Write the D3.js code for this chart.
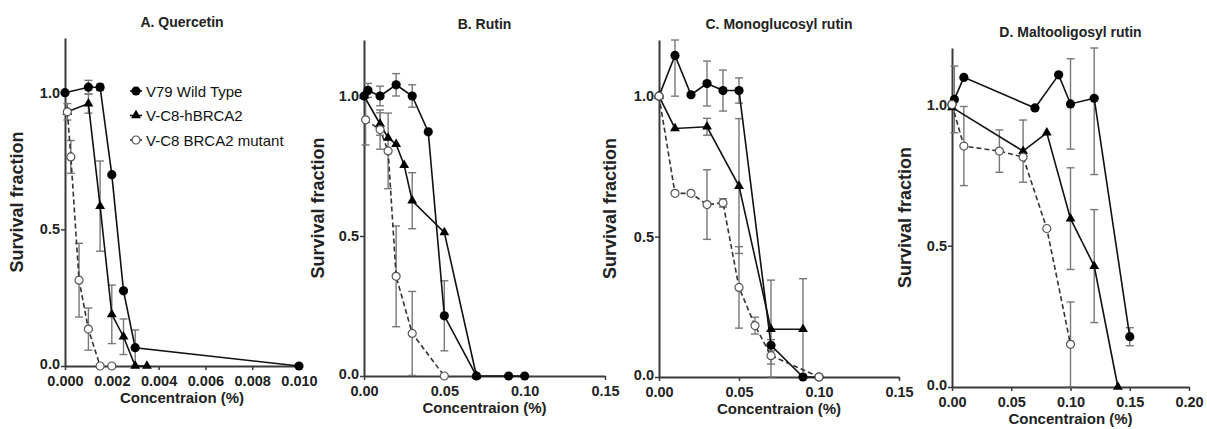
<!DOCTYPE html>
<html>
<head>
<meta charset="utf-8">
<script src="https://cdn.jsdelivr.net/npm/d3@7"></script>
<style>
  body { margin: 0; background: #fff; }
  text { font-family: "Liberation Sans", Arial, sans-serif; }
</style>
</head>
<body>
<div id="grafico"></div>
<script>
const WIDTH = 1207;
const HEIGHT = 429;

// A. Quercetin
const aX_wt = [0, 0.001, 0.0015, 0.002, 0.0025, 0.003, 0.010];
const aY_wt = [1.0, 1.02, 1.02, 0.70, 0.275, 0.067, 0];
const aE_wt = [0, 0.025, 0.012, 0, 0, 0.065, 0];
const aX_hb = [0.0001, 0.001, 0.0015, 0.002, 0.0025, 0.003, 0.0035];
const aY_hb = [0.93, 0.96, 0.585, 0.189, 0.107, 0, 0];
const aE_hb = [0.03, 0.035, 0.165, 0.107, 0.065, 0, 0];
const aX_mu = [0.0001, 0.00025, 0.0006, 0.001, 0.0015, 0.002];
const aY_mu = [0.93, 0.765, 0.314, 0.135, 0, 0];
const aE_mu = [0, 0.06, 0.135, 0.077, 0, 0];

// B. Rutin
const bX_wt = [0, 0.0025, 0.01, 0.02, 0.03, 0.04, 0.05, 0.07, 0.09, 0.10];
const bY_wt = [1.0, 1.02, 1.0, 1.04, 1.0, 0.872, 0.215, 0, 0, 0];
const bE_wt = [0, 0.025, 0.035, 0.04, 0.04, 0, 0.125, 0, 0, 0];
const bX_hb = [0, 0.01, 0.015, 0.02, 0.025, 0.03, 0.05, 0.07];
const bY_hb = [1.0, 0.9, 0.85, 0.828, 0.753, 0.626, 0.513, 0];
const bE_hb = [0, 0.04, 0, 0, 0, 0.1, 0, 0];
const bX_mu = [0.001, 0.01, 0.015, 0.02, 0.03, 0.05];
const bY_mu = [0.915, 0.88, 0.804, 0.356, 0.152, 0];
const bE_mu = [0.09, 0.07, 0.135, 0.18, 0.15, 0];

// C. Monoglucosyl rutin
const cX_wt = [0, 0.01, 0.02, 0.03, 0.04, 0.05, 0.07, 0.09, 0.10];
const cY_wt = [1.0, 1.145, 1.005, 1.045, 1.02, 1.02, 0.113, 0, 0];
const cE_wt = [0, 0.145, 0, 0.08, 0.073, 0.045, 0.02, 0, 0];
const cX_hb = [0, 0.01, 0.03, 0.05, 0.07, 0.09];
const cY_hb = [1.0, 0.885, 0.891, 0.68, 0.17, 0.17];
const cE_hb = [0, 0, 0.03, 0.24, 0.175, 0.18];
const cX_mu = [0, 0.01, 0.02, 0.03, 0.04, 0.05, 0.06, 0.07, 0.10];
const cY_mu = [1.0, 0.654, 0.654, 0.614, 0.62, 0.319, 0.183, 0.076, 0];
const cE_mu = [0, 0, 0, 0.124, 0.015, 0.145, 0.03, 0.03, 0];

// D. Maltooligosyl rutin
const dX_wt = [0, 0.002, 0.01, 0.07, 0.09, 0.10, 0.12, 0.15];
const dY_wt = [1.0, 1.018, 1.096, 0.988, 1.105, 1.002, 1.022, 0.178];
const dE_wt = [0, 0.118, 0, 0, 0, 0.16, 0.27, 0.032];
const dX_hb = [0, 0.06, 0.08, 0.10, 0.12, 0.14];
const dY_hb = [0.99, 0.835, 0.9, 0.596, 0.428, 0];
const dE_hb = [0, 0.11, 0, 0.18, 0.2, 0];
const dX_mu = [0, 0.01, 0.04, 0.06, 0.08, 0.10];
const dY_mu = [1.0, 0.853, 0.835, 0.814, 0.561, 0.151];
const dE_mu = [0, 0.14, 0.075, 0, 0, 0.15];

const legendLabels = ["V79 Wild Type", "V-C8-hBRCA2", "V-C8 BRCA2 mutant"];
const yTicks = [0, 0.5, 1.0];
const xTicksA = [0, 0.002, 0.004, 0.006, 0.008, 0.010];
const xTicksBC = [0, 0.05, 0.10, 0.15];
const xTicksD = [0, 0.05, 0.10, 0.15, 0.20];

const zip = (xs, ys, es) => xs.map((x, i) => ({x: x, y: ys[i], e: es[i]}));

const panels = [
    {title: "A. Quercetin", left: 65, right: 299, top: 38, bottom: 366, xMax: 0.010, xTicks: xTicksA, fmt: ".3f", yLabX: 17,
     series: [zip(aX_wt, aY_wt, aE_wt), zip(aX_hb, aY_hb, aE_hb), zip(aX_mu, aY_mu, aE_mu)]},
    {title: "B. Rutin", left: 364, right: 605, top: 40, bottom: 376, xMax: 0.15, xTicks: xTicksBC, fmt: ".2f", yLabX: 318,
     series: [zip(bX_wt, bY_wt, bE_wt), zip(bX_hb, bY_hb, bE_hb), zip(bX_mu, bY_mu, bE_mu)]},
    {title: "C. Monoglucosyl rutin", left: 659, right: 899, top: 40, bottom: 377, xMax: 0.15, xTicks: xTicksBC, fmt: ".2f", yLabX: 610,
     series: [zip(cX_wt, cY_wt, cE_wt), zip(cX_hb, cY_hb, cE_hb), zip(cX_mu, cY_mu, cE_mu)]},
    {title: "D. Maltooligosyl rutin", left: 952, right: 1189, top: 48, bottom: 387, xMax: 0.20, xTicks: xTicksD, fmt: ".2f", yLabX: 905,
     series: [zip(dX_wt, dY_wt, dE_wt), zip(dX_hb, dY_hb, dE_hb), zip(dX_mu, dY_mu, dE_mu)]}
];

const svg = d3.select("#grafico")
    .append("svg")
    .attr("width", WIDTH)
    .attr("height", HEIGHT);

const axisColor = "#3a3a3a";
const errColor = "#777";
const triangle = d3.symbol().type(d3.symbolTriangle).size(42);

function drawMarker(sel, kind) {
    if (kind === 0) {
        sel.append("circle").attr("r", 4.6).style("fill", "#000");
    } else if (kind === 1) {
        sel.append("path").attr("d", triangle).style("fill", "#000");
    } else {
        sel.append("circle").attr("r", 4).style("fill", "#fff")
            .style("stroke", "#555").style("stroke-width", 1.2);
    }
}

panels.forEach((p) => {
    let x = d3.scaleLinear().domain([0, p.xMax]).range([p.left, p.right]);
    let y = d3.scaleLinear().domain([0, 1.2]).range([p.bottom, p.top]);
    let g = svg.append("g");

    // axes
    let xAxis = g.append("g")
        .attr("transform", "translate(0," + p.bottom + ")")
        .call(d3.axisBottom(x).tickValues(p.xTicks).tickFormat(d3.format(p.fmt)).tickSize(4).tickPadding(6).tickSizeOuter(0));
    let yAxis = g.append("g")
        .attr("transform", "translate(" + p.left + ",0)")
        .call(d3.axisLeft(y).tickValues(yTicks).tickFormat(d3.format(".1f")).tickSize(4).tickPadding(1).tickSizeOuter(0));
    [xAxis, yAxis].forEach((a) => {
        a.select(".domain").style("stroke", axisColor).style("stroke-width", 2);
        a.selectAll(".tick line").style("stroke", axisColor).style("stroke-width", 1.5);
        a.selectAll(".tick text").style("font-size", "14.5px").style("font-weight", "bold").style("fill", "#222");
    });
    // lift the bottom y tick a touch so it clears the x tick labels
    yAxis.selectAll(".tick text").filter((d) => d === 0).attr("dy", "0.2em");

    // titles
    g.append("text")
        .attr("x", (p.left + p.right) / 2)
        .attr("y", p.top - 11)
        .attr("text-anchor", "middle")
        .style("font-size", "14px").style("font-weight", "bold").style("fill", "#222")
        .text(p.title);
    g.append("text")
        .attr("x", (p.left + p.right) / 2)
        .attr("y", p.bottom + 37)
        .attr("text-anchor", "middle")
        .style("font-size", "15px").style("font-weight", "bold").style("fill", "#222")
        .text("Concentraion (%)");
    g.append("text")
        .attr("transform", "translate(" + (p.yLabX + 6) + "," + ((p.top + p.bottom) / 2) + ") rotate(-90)")
        .attr("text-anchor", "middle")
        .style("font-size", "18px").style("font-weight", "bold").style("fill", "#222")
        .text("Survival fraction");

    // error bars
    p.series.forEach((s) => {
        s.filter((d) => d.e > 0).forEach((d) => {
            let hi = y(Math.min(1.2, d.y + d.e));
            let lo = y(Math.max(0, d.y - d.e));
            let cx = x(d.x);
            let eb = g.append("g").style("stroke", errColor).style("stroke-width", 1.4);
            eb.append("line").attr("x1", cx).attr("x2", cx).attr("y1", hi).attr("y2", lo);
            eb.append("line").attr("x1", cx - 4).attr("x2", cx + 4).attr("y1", hi).attr("y2", hi);
            eb.append("line").attr("x1", cx - 4).attr("x2", cx + 4).attr("y1", lo).attr("y2", lo);
        });
    });

    // lines
    let line = d3.line().x((d) => x(d.x)).y((d) => y(d.y));
    p.series.forEach((s, i) => {
        g.append("path")
            .datum(s)
            .attr("d", line)
            .style("fill", "none")
            .style("stroke", i === 2 ? "#333" : "#111")
            .style("stroke-width", 1.6)
            .style("stroke-dasharray", i === 2 ? "5,3" : null);
    });

    // markers
    p.series.forEach((s, i) => {
        s.forEach((d) => {
            let m = g.append("g").attr("transform", "translate(" + x(d.x) + "," + y(d.y) + ")");
            drawMarker(m, i);
        });
    });
});

// legend inside panel A
let legend = svg.append("g");
legendLabels.forEach((label, i) => {
    let ly = 91 + i * 24.5;
    let row = legend.append("g").attr("transform", "translate(136," + ly + ")");
    row.append("line").attr("x1", -6).attr("x2", 6)
        .style("stroke", i === 2 ? "#333" : "#111").style("stroke-width", 1.6);
    drawMarker(row, i);
    legend.append("text")
        .attr("x", 146).attr("y", ly + 5.5)
        .style("font-size", "15px").style("fill", "#111")
        .text(label);
});
</script>
</body>
</html>
